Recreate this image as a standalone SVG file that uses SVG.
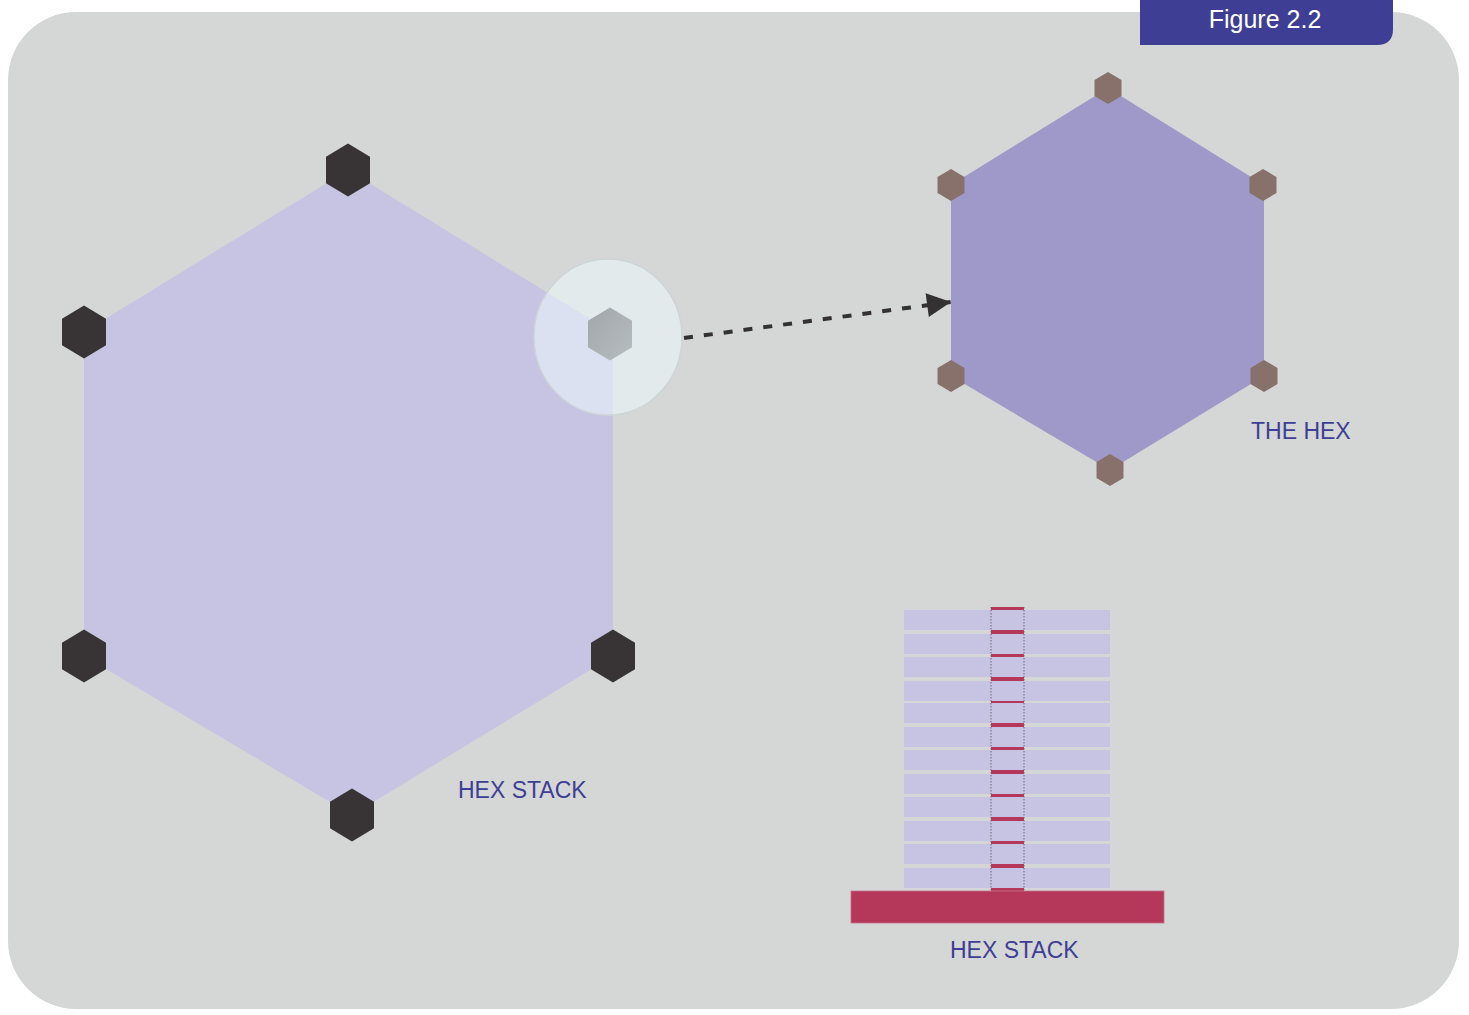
<svg xmlns="http://www.w3.org/2000/svg" width="1469" height="1015" viewBox="0 0 1469 1015">
  <style>
    .lbl { font-family: "Liberation Sans", Arial, sans-serif; fill: #3d3e94; font-size: 23px; }
    .dark { fill: #383436; }
    .brown { fill: #87716a; }
    .slab { fill: #c7c4e3; }
    .conn { fill: none; stroke: #333132; stroke-width: 4; stroke-dasharray: 9 11; }
  </style>
  <defs>
    <polygon id="hexD" points="0,-26.5 22,-13.25 22,13.25 0,26.5 -22,13.25 -22,-13.25"/>
    <polygon id="hexB" points="0,-16 13.5,-8 13.5,8 0,16 -13.5,8 -13.5,-8"/>
    <linearGradient id="greyG" x1="0" y1="0" x2="1" y2="1">
      <stop offset="0" stop-color="#a1a6aa"/>
      <stop offset="1" stop-color="#b6bdbf"/>
    </linearGradient>
    <marker id="arrow" markerUnits="userSpaceOnUse" markerWidth="28" markerHeight="28" refX="25" refY="13" orient="auto">
      <polygon points="1,1 25,13 1,25" fill="#333132"/>
    </marker>
  </defs>

  <rect x="0" y="0" width="1469" height="1015" fill="#ffffff"/>
  <rect id="panel" x="8" y="12" width="1451" height="997" rx="68" ry="68" fill="#d5d7d6"/>

  <g id="figure-tab">
    <path d="M1140,0 H1393 V29 Q1393,45 1377,45 H1140 Z" fill="#3d3e94"/>
    <text x="1265" y="28" text-anchor="middle" font-family="'Liberation Sans', Arial, sans-serif" font-size="25" fill="#ffffff">Figure 2.2</text>
  </g>

  <g id="hex-stack-large">
    <polygon points="348,170 613,333 613,656 352,815 84,656 84,332" fill="#c6c3e3"/>
    <use href="#hexD" x="348" y="170" class="dark"/>
    <use href="#hexD" x="84" y="332" class="dark"/>
    <use href="#hexD" x="84" y="656" class="dark"/>
    <use href="#hexD" x="352" y="815" class="dark"/>
    <use href="#hexD" x="613" y="656" class="dark"/>
    <text x="458" y="798" class="lbl">HEX STACK</text>
  </g>

  <g id="magnifier">
    <ellipse cx="608" cy="337" rx="74" ry="78" fill="#ecfafd" fill-opacity="0.55" stroke="#cdd5d7" stroke-width="1.5"/>
    <use href="#hexD" x="610" y="334" fill="url(#greyG)"/>
  </g>

  <g id="connectors">
    <line x1="684" y1="338" x2="951" y2="302" class="conn" marker-end="url(#arrow)"/>
  </g>

  <g id="the-hex">
    <polygon points="1108,88 1264,185 1264,376 1110,470 951,376 951,185" fill="#9f99c9"/>
    <use href="#hexB" x="1108" y="88" class="brown"/>
    <use href="#hexB" x="951" y="185" class="brown"/>
    <use href="#hexB" x="1263" y="185" class="brown"/>
    <use href="#hexB" x="951" y="376" class="brown"/>
    <use href="#hexB" x="1264" y="376" class="brown"/>
    <use href="#hexB" x="1110" y="470" class="brown"/>
    <text x="1251" y="439" class="lbl">THE HEX</text>
  </g>

  <g id="hex-stack-side">
    <rect x="991" y="607" width="33" height="286" fill="#b5385a"/>
    <rect x="904" y="610" width="206" height="20" class="slab"/>
    <rect x="904" y="634" width="206" height="20" class="slab"/>
    <rect x="904" y="657" width="206" height="20" class="slab"/>
    <rect x="904" y="681" width="206" height="20" class="slab"/>
    <rect x="904" y="703" width="206" height="20" class="slab"/>
    <rect x="904" y="727" width="206" height="20" class="slab"/>
    <rect x="904" y="750" width="206" height="20" class="slab"/>
    <rect x="904" y="774" width="206" height="20" class="slab"/>
    <rect x="904" y="797" width="206" height="20" class="slab"/>
    <rect x="904" y="821" width="206" height="20" class="slab"/>
    <rect x="904" y="844" width="206" height="20" class="slab"/>
    <rect x="904" y="868" width="206" height="20" class="slab"/>
    <line x1="991" y1="607" x2="991" y2="890" stroke="#6b6878" stroke-width="1" stroke-dasharray="1.5 1.5"/>
    <line x1="1024" y1="607" x2="1024" y2="890" stroke="#6b6878" stroke-width="1" stroke-dasharray="1.5 1.5"/>
    <rect x="851" y="891" width="313" height="32" fill="#b5385a" stroke="#c9728a" stroke-width="0.8"/>
    <text x="950" y="958" class="lbl">HEX STACK</text>
  </g>
</svg>
